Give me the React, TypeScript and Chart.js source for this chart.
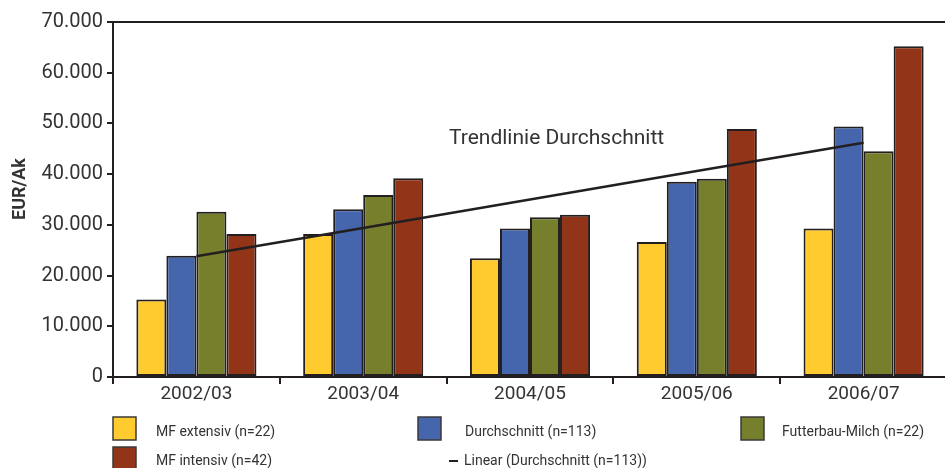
import React, { useEffect, useRef } from "react";
import { Chart, registerables } from "chart.js";

Chart.register(...registerables);

const categories = ["2002/03", "2003/04", "2004/05", "2005/06", "2006/07"];
const mfExtensiv = [15300, 28200, 23400, 26600, 29300];
const durchschnitt = [23900, 33100, 29300, 38500, 49400];
const futterbauMilch = [32600, 35900, 31500, 39100, 44500];
const mfIntensiv = [28200, 39200, 32000, 48900, 65200];
const trendDurchschnitt = [23800, 29400, 35000, 40600, 46200];
const yTicks = [0, 10000, 20000, 30000, 40000, 50000, 60000, 70000];

const seriesNames = [
  "MF extensiv (n=22)",
  "Durchschnitt (n=113)",
  "Futterbau-Milch (n=22)",
  "MF intensiv (n=42)",
  "Linear (Durchschnitt (n=113))",
];
const colors = ["#FFCB2F", "#4565AD", "#767F2B", "#923418"];
const ink = "#231f20";
const textColor = "#333333";
const FONT = "Roboto";

function fmt(v: number): string {
  const s = String(Math.round(v));
  return s.replace(/\B(?=(\d{3})+(?!\d))/g, ".");
}

const overlayPlugin = {
  id: "overlay",
  afterDraw(chart: any) {
    const ctx = chart.ctx;
    const a = chart.chartArea;
    ctx.save();
    // top frame line
    ctx.strokeStyle = ink;
    ctx.lineWidth = 2;
    ctx.beginPath();
    ctx.moveTo(a.left - 1, a.top);
    ctx.lineTo(a.right, a.top);
    ctx.stroke();

    // y axis title
    ctx.save();
    ctx.translate(20, 189);
    ctx.rotate(-Math.PI / 2);
    ctx.fillStyle = textColor;
    ctx.font = `bold 18px ${FONT}`;
    ctx.textAlign = "center";
    ctx.textBaseline = "middle";
    ctx.fillText("EUR/Ak", 0, 0);
    ctx.restore();

    // trend annotation
    ctx.fillStyle = textColor;
    ctx.font = `21px ${FONT}`;
    ctx.textAlign = "left";
    ctx.textBaseline = "alphabetic";
    ctx.fillText("Trendlinie Durchschnitt", 449, 144);

    // legend
    ctx.font = `14px ${FONT}`;
    const items = [
      { box: 113, text: 156, row: 0, kind: 0 },
      { box: 418, text: 465, row: 0, kind: 1 },
      { box: 741, text: 782, row: 0, kind: 2 },
      { box: 113, text: 156, row: 1, kind: 3 },
      { box: 449, text: 464, row: 1, kind: 4 },
    ];
    const rowTop = [417, 447];
    const rowBase = [436, 465];
    items.forEach((it) => {
      if (it.kind < 4) {
        ctx.fillStyle = colors[it.kind];
        ctx.fillRect(it.box, rowTop[it.row], 23, 23);
        ctx.strokeStyle = "#3a3a3a";
        ctx.lineWidth = 1.5;
        ctx.strokeRect(it.box, rowTop[it.row], 23, 23);
      } else {
        ctx.strokeStyle = ink;
        ctx.lineWidth = 2;
        ctx.beginPath();
        ctx.moveTo(it.box, 461);
        ctx.lineTo(it.box + 9, 461);
        ctx.stroke();
      }
      ctx.fillStyle = textColor;
      ctx.fillText(seriesNames[it.kind], it.text, rowBase[it.row]);
    });
    ctx.restore();
  },
};

export default function App() {
  const ref = useRef<HTMLCanvasElement | null>(null);

  useEffect(() => {
    if (!ref.current) return;
    const barData = [mfExtensiv, durchschnitt, futterbauMilch, mfIntensiv];
    const chart = new Chart(ref.current, {
      type: "bar",
      data: {
        labels: categories,
        datasets: [
          ...barData.map((d, i) => ({
            type: "bar" as const,
            label: seriesNames[i],
            data: d,
            backgroundColor: colors[i],
            borderColor: ink,
            borderWidth: 2,
            borderSkipped: false as any,
            categoryPercentage: 0.72,
            barPercentage: 1.0,
            order: 1,
          })),
          {
            type: "line" as const,
            label: seriesNames[4],
            data: trendDurchschnitt,
            borderColor: ink,
            borderWidth: 2.5,
            pointRadius: 0,
            fill: false,
            tension: 0,
            order: 0,
          },
        ],
      },
      options: {
        responsive: false,
        animation: false,
        devicePixelRatio: 1,
        layout: { padding: { top: 22, right: 13, bottom: 0, left: 0 } },
        plugins: {
          legend: { display: false },
          tooltip: { enabled: false },
        },
        scales: {
          x: {
            offset: true,
            grid: {
              display: true,
              drawOnChartArea: false,
              drawTicks: true,
              tickLength: 7,
              offset: true,
              color: ink,
              lineWidth: 2,
            },
            border: { display: true, color: ink, width: 2 },
            ticks: {
              font: { family: FONT, size: 19 },
              color: textColor,
              padding: -1,
              maxRotation: 0,
            },
            afterFit: (s: any) => {
              s.height = 91;
            },
          },
          y: {
            min: 0,
            max: 70000,
            afterBuildTicks: (s: any) => {
              s.ticks = yTicks.map((v) => ({ value: v }));
            },
            grid: {
              display: true,
              drawOnChartArea: false,
              drawTicks: true,
              tickLength: 6,
              color: ink,
              lineWidth: 2,
            },
            border: { display: true, color: ink, width: 2 },
            ticks: {
              font: { family: FONT, size: 20 },
              color: textColor,
              padding: 4,
              callback: (v: any) => fmt(Number(v)),
            },
            afterFit: (s: any) => {
              s.width = 113;
            },
          },
        },
      },
      plugins: [overlayPlugin],
    });
    return () => chart.destroy();
  }, []);

  return (
    <div
      style={{
        position: "absolute",
        left: 0,
        top: 0,
        width: 945,
        height: 468,
        overflow: "hidden",
        background: "#fff",
      }}
    >
      <canvas
        ref={ref}
        width={960}
        height={468}
        style={{ width: 960, height: 468, display: "block" }}
      />
    </div>
  );
}
